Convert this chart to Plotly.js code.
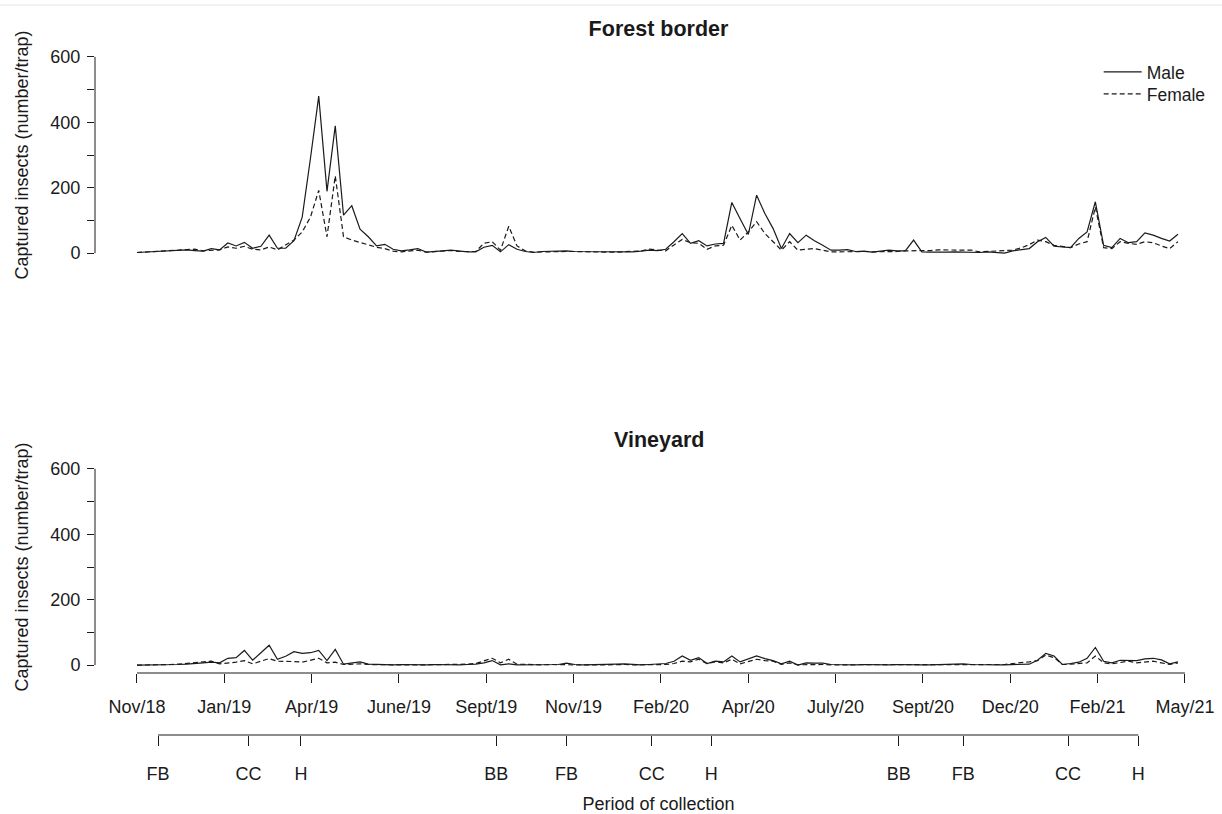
<!DOCTYPE html>
<html>
<head>
<meta charset="utf-8">
<script src="https://cdn.plot.ly/plotly-3.0.1.min.js"></script>
<style>html,body{margin:0;padding:0;background:#fff;}#chart{width:1222px;height:814px;}</style>
</head>
<body>
<div id="chart"></div>
<script>
// ---- Data (captured insects, number/trap), one value per collection ----
const maleForest = [2,3,5,6,8,9,10,8,6,14,10,31,22,33,15,21,55,15,15,38,110,290,480,189,389,116,145,73,50,22,27,12,7,10,14,3,6,7,9,6,4,4,18,24,4,26,12,5,2,5,6,8,7,5,5,4,4,3,4,3,4,6,9,8,12,35,60,30,38,22,28,30,155,105,57,177,121,75,14,60,32,55,38,24,9,9,11,5,6,3,7,9,7,7,40,4,3,2,3,4,3,1,2,4,2,0,7,11,14,35,48,21,20,17,45,65,157,24,17,45,32,35,62,55,45,37,58];
const femaleForest = [2,3,4,5,7,9,11,12,7,9,10,19,15,21,12,10,19,10,25,40,65,110,192,50,236,50,40,32,24,18,14,6,4,7,9,3,5,6,8,5,4,5,30,35,9,82,22,7,3,4,5,6,5,5,4,3,4,3,3,4,5,7,12,9,7,25,42,32,30,12,22,24,85,40,65,96,60,35,9,35,9,12,14,9,4,4,5,4,5,4,4,6,5,7,7,9,8,10,10,11,10,9,4,5,6,7,9,16,26,40,35,24,20,17,28,35,141,17,14,35,30,27,35,32,22,14,35];
const maleVineyard = [0,0,1,0,1,2,3,4,7,9,7,21,23,45,15,38,61,18,27,41,36,38,45,14,48,3,6,10,3,2,1,1,2,1,1,1,2,1,1,1,2,3,7,14,1,4,1,1,2,1,2,2,6,2,1,1,1,2,3,4,2,1,2,3,5,12,28,15,23,5,12,10,28,10,18,28,20,14,4,12,0,7,6,6,2,1,1,1,2,1,1,1,2,1,2,1,1,2,1,2,4,2,1,1,1,1,2,2,3,15,36,28,2,5,9,21,54,12,7,15,15,14,19,21,16,4,10];
const femaleVineyard = [0,0,1,1,2,3,5,7,9,12,4,6,9,14,4,12,20,12,12,11,9,14,21,7,9,2,3,4,2,1,1,1,1,2,1,1,1,2,1,2,3,5,12,21,7,18,3,2,1,1,2,1,2,1,1,2,1,1,2,2,1,1,2,2,2,5,12,10,18,5,10,7,18,4,10,18,14,12,2,7,1,2,3,2,1,1,1,2,1,1,1,2,1,2,1,1,1,1,1,2,2,1,1,2,1,2,5,7,10,14,31,23,2,3,4,7,28,7,4,8,12,7,10,12,7,2,7];

const monthLabels = ["Nov/18","Jan/19","Apr/19","June/19","Sept/19","Nov/19","Feb/20","Apr/20","July/20","Sept/20","Dec/20","Feb/21","May/21"];
const monthLabelStep = 10.57;   // collections between two month labels
const phenoLabels = ["FB","CC","H","BB","FB","CC","H","BB","FB","CC","H"];
const phenoPos = [2.55,13.5,19.85,43.5,52.0,62.3,69.5,92.2,100.0,112.7,121.2];

const yTicks = [0,100,200,300,400,500,600];
const yTickText = ["0","","200","","400","","600"];

// ---- Build ----
const idx = maleForest.map((_, i) => i);
const monthPos = monthLabels.map((_, k) => k * monthLabelStep);

const FONT = '"Liberation Sans", Arial, sans-serif';
const INK = '#1a1a1a';
const xr = [-5.08, 131.33];
const H = 814;
const py = v => 1 - v / H;   // pixel row -> paper fraction

const traces = [
  {x: idx, y: maleForest, type: 'scatter', mode: 'lines', name: 'Male', legend: 'legend', xaxis: 'x', yaxis: 'y',
   line: {color: INK, width: 1.2}, hoverinfo: 'skip'},
  {x: idx, y: femaleForest, type: 'scatter', mode: 'lines', name: 'Female', legend: 'legend2', xaxis: 'x', yaxis: 'y',
   line: {color: INK, width: 1.2, dash: '5px,3px'}, hoverinfo: 'skip'},
  {x: idx, y: maleVineyard, type: 'scatter', mode: 'lines', name: 'Male', showlegend: false, xaxis: 'x2', yaxis: 'y2',
   line: {color: INK, width: 1.2}, hoverinfo: 'skip'},
  {x: idx, y: femaleVineyard, type: 'scatter', mode: 'lines', name: 'Female', showlegend: false, xaxis: 'x2', yaxis: 'y2',
   line: {color: INK, width: 1.2, dash: '5px,3px'}, hoverinfo: 'skip'},
  {x: phenoPos, y: phenoPos.map(() => null), type: 'scatter', mode: 'lines', showlegend: false,
   xaxis: 'x3', yaxis: 'y2', hoverinfo: 'skip'}
];

const yAxisBase = {
  range: [-24, 624], tickvals: yTicks, ticktext: yTickText, ticks: 'outside', ticklen: 7,
  tickcolor: INK, tickwidth: 1, showline: false, showgrid: false, zeroline: false,
  ticklabelstandoff: 3,
  tickfont: {family: FONT, size: 18, color: INK},
  title: {text: 'Captured insects (number/trap)', font: {family: FONT, size: 18, color: INK}, standoff: 17}
};

const legendBase = {x: 0.8906, xanchor: 'left', yanchor: 'middle', itemwidth: 38,
  bgcolor: 'rgba(0,0,0,0)', font: {family: FONT, size: 17.5, color: INK}};

const layout = {
  width: 1222, height: H,
  margin: {l: 95, r: 0, t: 0, b: 0},
  paper_bgcolor: '#fff', plot_bgcolor: '#fff',
  font: {family: FONT, color: INK},
  title: {text: '<b>Forest border</b>', x: 0.5, xref: 'paper', y: py(28), yref: 'container',
          yanchor: 'middle', font: {family: FONT, size: 21.5, color: INK}},
  showlegend: true,
  legend: Object.assign({}, legendBase, {y: py(72)}),
  legend2: Object.assign({}, legendBase, {y: py(94)}),
  xaxis: {domain: [0, 1], range: xr, anchor: 'y', visible: false, showgrid: false, zeroline: false},
  yaxis: Object.assign({}, yAxisBase, {domain: [py(261), py(49)], anchor: 'x'}),
  xaxis2: {domain: [0, 1], range: xr, anchor: 'y2', tickvals: monthPos, ticktext: monthLabels,
           ticks: 'outside', ticklen: 9, tickcolor: INK, showline: false, showgrid: false, zeroline: false,
           ticklabelstandoff: 8, tickfont: {family: FONT, size: 18, color: INK}},
  yaxis2: Object.assign({}, yAxisBase, {domain: [py(673), py(461)], anchor: 'x2'}),
  xaxis3: {overlaying: 'x2', anchor: 'free', position: py(735), side: 'bottom', range: xr,
           tickvals: phenoPos, ticktext: phenoLabels, ticks: 'outside', ticklen: 10, tickcolor: INK,
           showline: false, showgrid: false, zeroline: false, ticklabelstandoff: 12,
           tickfont: {family: FONT, size: 18, color: INK},
           title: {text: 'Period of collection', font: {family: FONT, size: 18, color: INK}, standoff: 17}},
  annotations: [
    {text: '<b>Vineyard</b>', x: 0.5, xref: 'paper', y: py(440), yref: 'paper', yanchor: 'middle',
     showarrow: false, font: {family: FONT, size: 21.5, color: INK}}
  ],
  shapes: [
    {type: 'line', xref: 'paper', x0: 0, x1: 0, yref: 'y', y0: 0, y1: 600, line: {color: INK, width: 1}},
    {type: 'line', xref: 'paper', x0: 0, x1: 0, yref: 'y2', y0: 0, y1: 600, line: {color: INK, width: 1}},
    {type: 'line', xref: 'x2', x0: monthPos[0], x1: monthPos[monthPos.length - 1], yref: 'paper',
     y0: py(673), y1: py(673), line: {color: INK, width: 1}},
    {type: 'line', xref: 'x2', x0: phenoPos[0], x1: phenoPos[phenoPos.length - 1], yref: 'paper',
     y0: py(735), y1: py(735), line: {color: INK, width: 1}},
    {type: 'line', xref: 'paper', x0: -95/1127, x1: 1, yref: 'paper', y0: py(5), y1: py(5),
     line: {color: '#e2e2e2', width: 1}}
  ]
};

Plotly.newPlot('chart', traces, layout, {displayModeBar: false, staticPlot: true});
</script>
</body>
</html>
